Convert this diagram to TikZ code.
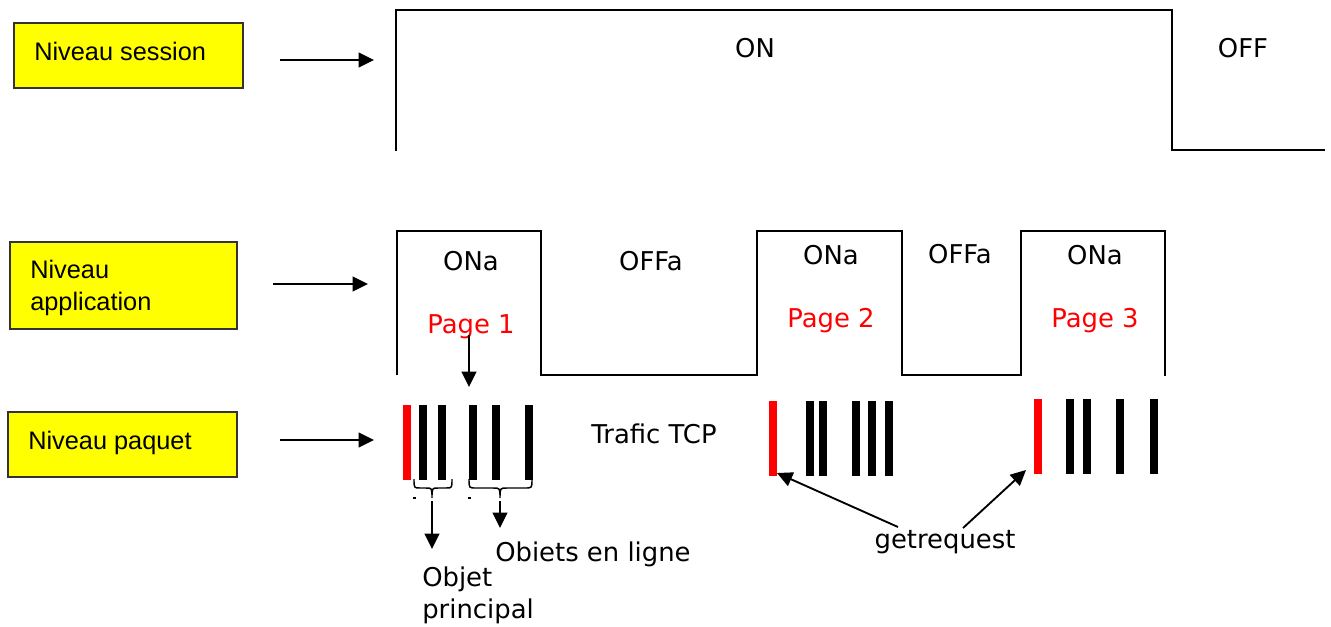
\documentclass[tikz,border=0pt]{standalone}
\usepackage{fontspec}
\setmainfont{DejaVu Sans}
\newfontfamily\arialf{Liberation Sans}
\usetikzlibrary{arrows.meta}
\definecolor{boxyellow}{RGB}{255,255,0}
\begin{document}
\begin{tikzpicture}[x=0.75pt,y=-0.75pt,
  lvlbox/.style={draw=black!80, line width=0.8pt, fill=boxyellow, inner sep=0, outer sep=0},
  lvltext/.style={font=\arialf\fontsize{19}{24}\selectfont, anchor=base west, inner sep=0, align=left},
  lbl/.style={font=\fontsize{19.4}{23.3}\selectfont, anchor=base, inner sep=0},
  redlbl/.style={lbl, text=red},
  wave/.style={line width=1.3pt, line join=miter},
  arr/.style={line width=1.4pt, -{Triangle[length=11.5pt,width=11pt]}},
  bar/.style={fill=black, minimum width=6pt, minimum height=56.25pt, inner sep=0, outer sep=0},
  redbar/.style={bar, fill=red},
  brc/.style={line width=1.1pt}
]
\useasboundingbox (0,0) rectangle (1331,626);

% level boxes
\node[lvlbox, minimum width=171.75pt, minimum height=48.75pt] (sessbox) at (128.5,55.5) {};
\node[lvltext] (sesstxt) at (34,60) {Niveau session};
\node[lvlbox, minimum width=170.25pt, minimum height=65.25pt] (appbox) at (123.5,285.5) {};
\node[lvltext] (apptxt) at (30,310) {Niveau\\application};
\node[lvlbox, minimum width=171.75pt, minimum height=48.75pt] (pktbox) at (122.5,444.5) {};
\node[lvltext] (pkttxt) at (28,449) {Niveau paquet};

% level arrows
\coordinate (sa1) at (280,60); \coordinate (sa2) at (374,60);
\coordinate (aa1) at (273,284); \coordinate (aa2) at (368,284);
\coordinate (pa1) at (280,440); \coordinate (pa2) at (374,440);
\draw[arr] (sa1) -- (sa2);
\draw[arr] (aa1) -- (aa2);
\draw[arr] (pa1) -- (pa2);

% session waveform
\draw[wave] (396,151) -- (396,10) -- (1172,10) -- (1172,150) -- (1325,150);
\node[lbl] (on) at (755,57) {ON};
\node[lbl] (off) at (1243,57) {OFF};

% application waveform
\draw[wave] (397,375) -- (397,231) -- (541,231) -- (541,375) -- (757,375) -- (757,231)
  -- (902,231) -- (902,375) -- (1021,375) -- (1021,231) -- (1165,231) -- (1165,376);
\node[lbl] (ona1) at (471,270) {ONa};
\node[lbl] (offa1) at (651,270) {OFFa};
\node[lbl] (ona2) at (831,264) {ONa};
\node[lbl] (offa2) at (960,263) {OFFa};
\node[lbl] (ona3) at (1095,264) {ONa};
\node[redlbl] (p1) at (471,333) {Page 1};
\node[redlbl] (p2) at (831,327) {Page 2};
\node[redlbl] (p3) at (1095,327) {Page 3};

% page 1 arrow
\coordinate (p1a) at (469,335); \coordinate (p1b) at (469,387);
\draw[arr] (p1a) -- (p1b);

% packets group 1
\node[redbar] (r1) at (407,442.5) {};
\node[bar] (b11) at (423.3,442.5) {};
\node[bar] (b12) at (442,442.5) {};
\node[bar] (b13) at (473,442.5) {};
\node[bar] (b14) at (496,442.5) {};
\node[bar] (b15) at (529,442.5) {};
% packets group 2
\node[redbar] (r2) at (773.3,438.5) {};
\node[bar] (b21) at (809.7,438.5) {};
\node[bar] (b22) at (823,438.5) {};
\node[bar] (b23) at (855.7,438.5) {};
\node[bar] (b24) at (872,438.5) {};
\node[bar] (b25) at (889,438.5) {};
% packets group 3
\node[redbar] (r3) at (1037.5,436.5) {};
\node[bar] (b31) at (1070.3,436.5) {};
\node[bar] (b32) at (1086.8,436.5) {};
\node[bar] (b33) at (1120,436.5) {};
\node[bar] (b34) at (1153.5,436.5) {};

\node[lbl] (tcp) at (654,443) {Trafic TCP};

% braces
\draw[brc] (414,479) .. controls (414,488) .. (420,488) -- (426,488)
  .. controls (432,488) .. (432,498) .. controls (432,488) .. (438,488) -- (446,488)
  .. controls (452,488) .. (452,479);
\draw[brc] (469,479) .. controls (469,488) .. (476,488) -- (493,488)
  .. controls (500,488) .. (500,498) .. controls (500,488) .. (507,488) -- (525,488)
  .. controls (532,488) .. (532,479);
\fill (413,497) rectangle (416,498.5);
\fill (468,497) rectangle (471,498.5);

% brace arrows
\coordinate (ba1) at (432,501); \coordinate (bb1) at (432,549);
\coordinate (ba2) at (500,501); \coordinate (bb2) at (500,528);
\draw[arr] (ba1) -- (bb1);
\draw[arr] (ba2) -- (bb2);

\node[lbl, anchor=base west] (obl) at (495,561) {Obiets en ligne};
\node[lbl, anchor=base west, align=left] (obp) at (422,618) {Objet\\principal};

% getrequest
\node[lbl] (gr) at (945,548) {getrequest};
\coordinate (g1) at (898,527); \coordinate (g2) at (963,528);
\coordinate (t1) at (777,473); \coordinate (t2) at (1026,470);
\draw[arr] (g1) -- (t1);
\draw[arr] (g2) -- (t2);
\end{tikzpicture}
\end{document}
